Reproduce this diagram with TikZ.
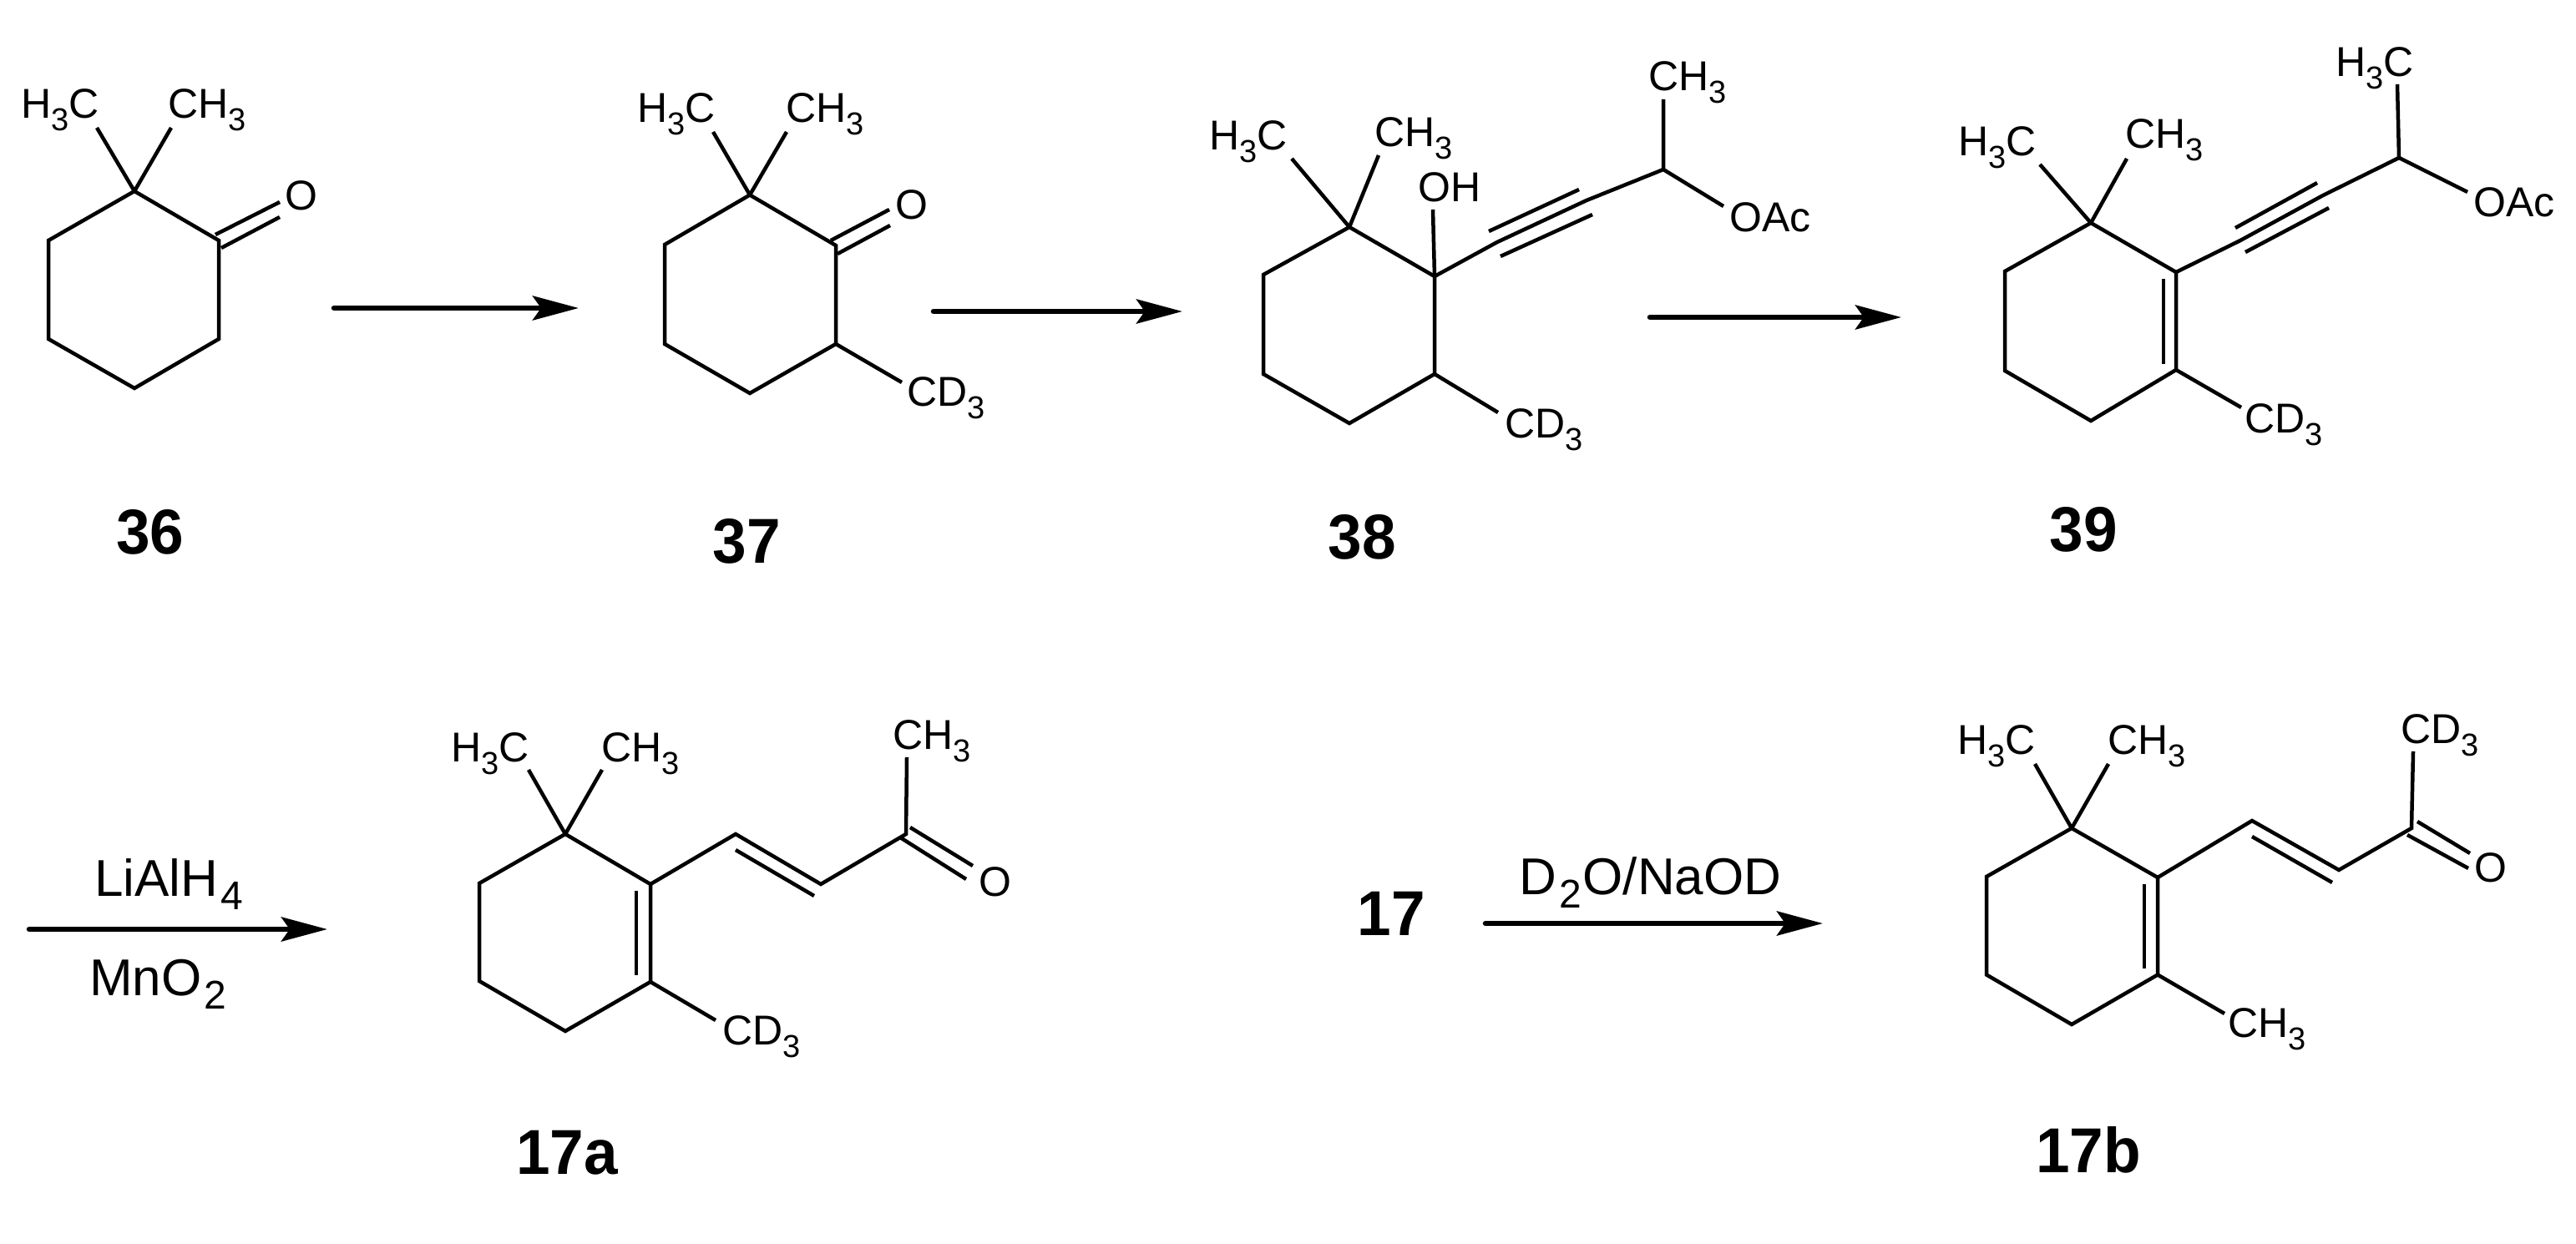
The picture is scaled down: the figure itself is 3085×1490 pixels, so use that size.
\documentclass[tikz,border=0pt]{standalone}
\usepackage{fontspec}
\setmainfont{Liberation Sans}
\newfontfamily\labelfont[FakeStretch=0.96]{Liberation Sans}
\usetikzlibrary{arrows.meta}
\newcommand\lowr[1]{\raisebox{-15pt}{\fontsize{38}{38}\selectfont #1}}
\newcommand\lowrb[1]{\kern3pt\raisebox{-16pt}{\fontsize{48}{48}\selectfont #1}\kern2pt}
\tikzset{
  bond/.style={draw=black,line width=4.5pt,line join=miter},
  thinbond/.style={draw=black,line width=3.5pt},
  rxn/.style={draw=black,line width=6.5pt,line cap=round,-{Stealth[length=55pt,width=29pt,inset=10pt]}},
  atom/.style={anchor=base west,inner sep=0pt,xshift=-1pt,font=\fontsize{50}{50}\selectfont},
  reagent/.style={anchor=base west,inner sep=0pt,font=\fontsize{62}{62}\selectfont},
  cmpd/.style={anchor=base,inner sep=0pt,font=\labelfont\bfseries\fontsize{76}{76}\selectfont},
}
\begin{document}
\begin{tikzpicture}[x=1pt,y=-1pt]
\useasboundingbox (0,0) rectangle (3085,1490);
% ---------- 36
\coordinate (a1) at (161,229); \coordinate (a2) at (262,288); \coordinate (a3) at (262,406);
\coordinate (a4) at (161,465); \coordinate (a5) at (58,406); \coordinate (a6) at (58,288);
\coordinate (am1) at (116,153); \coordinate (am2) at (205,153);
\coordinate (ao1a) at (258,281); \coordinate (ao1b) at (335,242);
\coordinate (ao2a) at (265,297); \coordinate (ao2b) at (335,260);
\draw[bond] (a1)--(a2)--(a3)--(a4)--(a5)--(a6)--cycle;
\draw[bond] (a1)--(am1) (a1)--(am2) (ao1a)--(ao1b) (ao2a)--(ao2b);
\node[atom] (a-h3c) at (26,141.5) {H\lowr{3}C};
\node[atom] (a-ch3) at (202,141.5) {CH\lowr{3}};
\node[atom] (a-o) at (342,251) {O};
\node[cmpd] (l36) at (180,663) {36};
% ---------- arrow 1
\coordinate (r1s) at (400,369); \coordinate (r1e) at (693,369);
\draw[rxn] (r1s)--(r1e);
% ---------- 37
\coordinate (b1) at (898,233.5); \coordinate (b2) at (1001,294); \coordinate (b3) at (1001,412);
\coordinate (b4) at (898,471); \coordinate (b5) at (796,412); \coordinate (b6) at (796,293);
\coordinate (bm1) at (854,158); \coordinate (bm2) at (942,158); \coordinate (bm3) at (1080,458);
\coordinate (bo1a) at (995,288); \coordinate (bo1b) at (1065,251);
\coordinate (bo2a) at (1003,304); \coordinate (bo2b) at (1066,270);
\draw[bond] (b1)--(b2)--(b3)--(b4)--(b5)--(b6)--cycle;
\draw[bond] (b1)--(bm1) (b1)--(bm2) (b3)--(bm3) (bo1a)--(bo1b) (bo2a)--(bo2b);
\node[atom] (b-h3c) at (764,147) {H\lowr{3}C};
\node[atom] (b-ch3) at (942,147) {CH\lowr{3}};
\node[atom] (b-o) at (1073,262) {O};
\node[atom] (b-cd3) at (1087,486) {CD\lowr{3}};
\node[cmpd] (l37) at (894,674) {37};
% ---------- arrow 2
\coordinate (r2s) at (1118,373); \coordinate (r2e) at (1416,373);
\draw[rxn] (r2s)--(r2e);
% ---------- 38
\coordinate (c1) at (1616,272); \coordinate (c2) at (1718,331); \coordinate (c3) at (1718,448);
\coordinate (c4) at (1616,507); \coordinate (c5) at (1513,448); \coordinate (c6) at (1513,329);
\coordinate (cm1) at (1547,190); \coordinate (cm2) at (1651,186); \coordinate (coh) at (1716,251);
\coordinate (cm3) at (1794,494); \coordinate (cch) at (1992,203); \coordinate (cm4) at (1992,119);
\coordinate (coac) at (2064,247);
\coordinate (cb1) at (1793,290); \coordinate (cb2) at (1900,240);
\coordinate (ct1a) at (1783,277); \coordinate (ct1b) at (1891,227);
\coordinate (ct2a) at (1797,307); \coordinate (ct2b) at (1907,257);
\draw[bond] (c1)--(c2)--(c3)--(c4)--(c5)--(c6)--cycle;
\draw[bond] (c1)--(cm1) (c1)--(cm2) (c2)--(coh) (c3)--(cm3) (c2)--(cb1)--(cb2)--(cch) (cch)--(cm4) (cch)--(coac)
  (ct1a)--(ct1b) (ct2a)--(ct2b);
\node[atom] (c-h3c) at (1449,180) {H\lowr{3}C};
\node[atom] (c-ch3) at (1647,176) {CH\lowr{3}};
\node[atom] (c-oh) at (1699,241) {OH};
\node[atom] (c-ch3b) at (1975,109) {CH\lowr{3}};
\node[atom] (c-oac) at (2072,277) {OAc};
\node[atom] (c-cd3) at (1803,524) {CD\lowr{3}};
\node[cmpd] (l38) at (1631,669) {38};
% ---------- arrow 3
\coordinate (r3s) at (1976,380); \coordinate (r3e) at (2277,380);
\draw[rxn] (r3s)--(r3e);
% ---------- 39
\coordinate (d1) at (2504,267); \coordinate (d2) at (2606,326); \coordinate (d3) at (2606,443);
\coordinate (d4) at (2504,504); \coordinate (d5) at (2401,444); \coordinate (d6) at (2401,325);
\coordinate (dm1) at (2443,197); \coordinate (dm2) at (2547,190); \coordinate (dm3) at (2684,488);
\coordinate (dch) at (2873,189); \coordinate (dm4) at (2871,101); \coordinate (doac) at (2955,230);
\coordinate (dia) at (2591,334); \coordinate (dib) at (2591,436);
\coordinate (db1) at (2683,288); \coordinate (db2) at (2782,234);
\coordinate (dt1a) at (2677,273); \coordinate (dt1b) at (2775,219);
\coordinate (dt2a) at (2689,302); \coordinate (dt2b) at (2789,249);
\draw[bond] (d1)--(d2)--(d3)--(d4)--(d5)--(d6)--cycle;
\draw[bond] (d1)--(dm1) (d1)--(dm2) (d3)--(dm3) (d2)--(db1)--(db2)--(dch) (dch)--(dm4) (dch)--(doac)
  (dt1a)--(dt1b) (dt2a)--(dt2b);
\draw[thinbond] (dia)--(dib);
\node[atom] (d-h3c) at (2346,187) {H\lowr{3}C};
\node[atom] (d-ch3) at (2546,178) {CH\lowr{3}};
\node[atom] (d-h3cb) at (2798,92) {H\lowr{3}C};
\node[atom] (d-oac) at (2963,259) {OAc};
\node[atom] (d-cd3) at (2689,518) {CD\lowr{3}};
\node[cmpd] (l39) at (2495,660) {39};
% ---------- arrow 4
\coordinate (r4s) at (35,1113); \coordinate (r4e) at (392,1113);
\draw[rxn] (r4s)--(r4e);
\node[reagent] (r4t) at (113,1073) {LiAlH\lowrb{4}};
\node[reagent] (r4b) at (107,1192) {MnO\lowrb{2}};
% ---------- 17a
\coordinate (e1) at (677,999); \coordinate (e2) at (779,1059); \coordinate (e3) at (779,1176);
\coordinate (e4) at (677,1235); \coordinate (e5) at (574,1175); \coordinate (e6) at (574,1058);
\coordinate (em1) at (633,922); \coordinate (em2) at (721,922); \coordinate (em3) at (857,1222);
\coordinate (eia) at (762,1067); \coordinate (eib) at (762,1168);
\coordinate (ev1) at (881,999); \coordinate (ev2) at (983,1059); \coordinate (eco) at (1085,999);
\coordinate (em4) at (1086,907);
\coordinate (eva) at (881,1018); \coordinate (evb) at (975,1073);
\coordinate (eo1a) at (1090,991); \coordinate (eo1b) at (1165,1037);
\coordinate (eo2a) at (1078,1003); \coordinate (eo2b) at (1157,1053);
\draw[bond] (e1)--(e2)--(e3)--(e4)--(e5)--(e6)--cycle;
\draw[bond] (e1)--(em1) (e1)--(em2) (e3)--(em3) (e2)--(ev1)--(ev2)--(eco)--(em4)
  (eva)--(evb) (eo1a)--(eo1b) (eo2a)--(eo2b);
\draw[thinbond] (eia)--(eib);
\node[atom] (e-h3c) at (541,912) {H\lowr{3}C};
\node[atom] (e-ch3) at (721,912) {CH\lowr{3}};
\node[atom] (e-ch3b) at (1070,897) {CH\lowr{3}};
\node[atom] (e-o) at (1173,1073) {O};
\node[atom] (e-cd3) at (866,1251) {CD\lowr{3}};
\node[cmpd] (l17a) at (679,1406) {17a};
% ---------- 17 and arrow 5
\node[cmpd] (l17) at (1666,1120) {17};
\coordinate (r5s) at (1779,1106); \coordinate (r5e) at (2183,1106);
\draw[rxn] (r5s)--(r5e);
\node[reagent] (r5t) at (1819,1071) {D\lowrb{2}O/NaOD};
% ---------- 17b
\coordinate (f1) at (2481,992); \coordinate (f2) at (2584,1051); \coordinate (f3) at (2584,1167.5);
\coordinate (f4) at (2481,1227); \coordinate (f5) at (2379,1167.5); \coordinate (f6) at (2379,1050);
\coordinate (fm1) at (2437,915); \coordinate (fm2) at (2525,915); \coordinate (fm3) at (2664,1214);
\coordinate (fia) at (2568,1059); \coordinate (fib) at (2568,1160);
\coordinate (fv1) at (2697,983); \coordinate (fv2) at (2801,1042); \coordinate (fco) at (2888,992);
\coordinate (fm4) at (2890,900);
\coordinate (fva) at (2697,1002); \coordinate (fvb) at (2793,1057);
\coordinate (fo1a) at (2895,984); \coordinate (fo1b) at (2958,1022);
\coordinate (fo2a) at (2883,1000); \coordinate (fo2b) at (2956,1040);
\draw[bond] (f1)--(f2)--(f3)--(f4)--(f5)--(f6)--cycle;
\draw[bond] (f1)--(fm1) (f1)--(fm2) (f3)--(fm3) (f2)--(fv1)--(fv2)--(fco)--(fm4)
  (fva)--(fvb) (fo1a)--(fo1b) (fo2a)--(fo2b);
\draw[thinbond] (fia)--(fib);
\node[atom] (f-h3c) at (2345,903) {H\lowr{3}C};
\node[atom] (f-ch3) at (2525,903) {CH\lowr{3}};
\node[atom] (f-cd3) at (2876,890) {CD\lowr{3}};
\node[atom] (f-o) at (2964,1056) {O};
\node[atom] (f-ch3b) at (2669,1242) {CH\lowr{3}};
\node[cmpd] (l17b) at (2501,1404) {17b};
\end{tikzpicture}
\end{document}
